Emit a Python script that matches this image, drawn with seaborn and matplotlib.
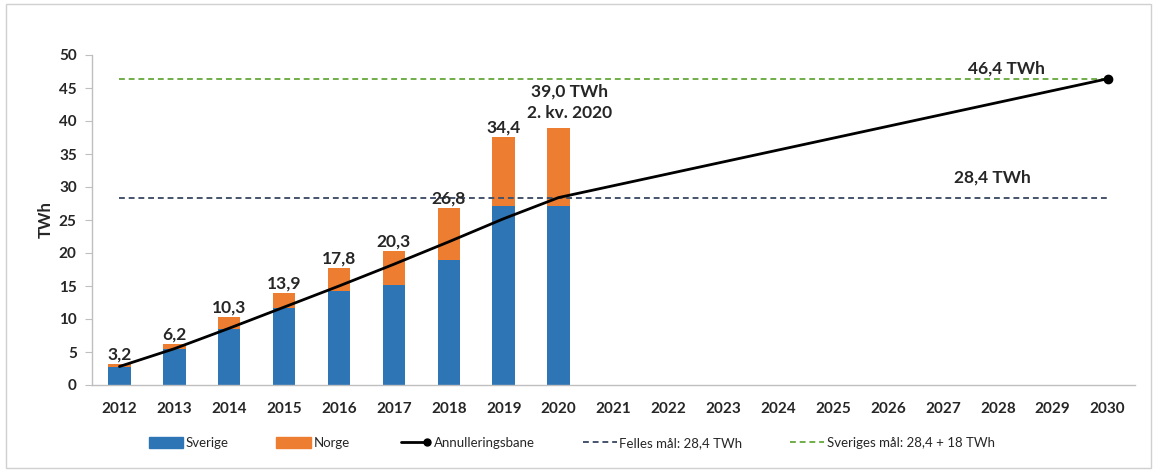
import matplotlib.pyplot as plt
import pandas as pd
import seaborn as sns
from matplotlib.legend_handler import HandlerLine2D
from matplotlib.lines import Line2D
from matplotlib.patches import Patch, Rectangle

# Kategorier (år)
years = [str(y) for y in range(2012, 2031)]

# Stablede søyler (TWh), 2012-2020
bar_years = ["2012", "2013", "2014", "2015", "2016", "2017", "2018", "2019", "2020"]
sverige = [2.8, 5.4, 8.5, 11.6, 14.3, 15.1, 19.0, 27.1, 27.1]
norge = [0.4, 0.8, 1.8, 2.3, 3.5, 5.2, 7.8, 10.5, 11.9]
bar_labels = ["3,2", "6,2", "10,3", "13,9", "17,8", "20,3", "26,8", "34,4", ""]

# Annulleringsbane
bane_years = ["2012", "2013", "2014", "2015", "2016", "2017", "2018", "2019", "2020", "2030"]
bane = [2.8, 5.5, 8.6, 11.8, 15.0, 18.3, 21.7, 25.2, 28.4, 46.4]

felles_maal = 28.4
sveriges_maal = 46.4

BLUE = "#2E75B6"
ORANGE = "#ED7D31"
NAVY = "#44546A"
GREEN = "#70AD47"


class EndMarkerHandler(HandlerLine2D):
    """Linje i tegnforklaringen med markør bare i høyre ende."""

    def create_artists(self, legend, orig_handle, xdescent, ydescent,
                       width, height, fontsize, trans):
        artists = super().create_artists(legend, orig_handle, xdescent, ydescent,
                                         width, height, fontsize, trans)
        for a in artists:
            n = len(a.get_xdata())
            a.set_markevery([n - 1])
        return artists


sns.set_style("white")
plt.rcParams["font.family"] = ["Lato", "DejaVu Sans"]

df = pd.DataFrame({"year": bar_years, "sverige": sverige, "norge": norge})
df["total"] = df["sverige"] + df["norge"]

W, H = 1157, 472
fig = plt.figure(figsize=(W / 100, H / 100), dpi=100)
ax = fig.add_axes([92 / W, (H - 385) / H, (1135 - 92) / W, (385 - 55) / H])

# Totalen (orange) først, deretter Sverige (blå) oppå
sns.barplot(data=df, x="year", y="total", order=years, color=ORANGE,
            width=0.41, saturation=1, linewidth=0, ax=ax)
sns.barplot(data=df, x="year", y="sverige", order=years, color=BLUE,
            width=0.41, saturation=1, linewidth=0, ax=ax)

pos = {y: i for i, y in enumerate(years)}

# Mållinjer
ax.hlines(sveriges_maal, pos["2012"], pos["2030"], colors=GREEN,
          linestyles=(0, (3, 2)), lw=1.4, zorder=3)
ax.hlines(felles_maal, pos["2012"], pos["2030"], colors=NAVY,
          linestyles=(0, (3, 2)), lw=1.4, zorder=3)

# Annulleringsbane
bx = [pos[y] for y in bane_years]
ax.plot(bx, bane, color="black", lw=2, zorder=4)
ax.plot(bx[-1], bane[-1], "o", color="black", ms=6, zorder=5)

# Verdietiketter
for yr, tot, lab in zip(bar_years, df["total"], bar_labels):
    if lab:
        ax.annotate(lab, (pos[yr], tot), xytext=(0, 1), textcoords="offset points",
                    ha="center", va="bottom", fontsize=12.5, fontweight="bold")
ax.text(pos["2020"] + 0.2, 44.4, "39,0 TWh", ha="center", va="center",
        fontsize=12.5, fontweight="bold")
ax.text(pos["2020"] + 0.2, 41.2, "2. kv. 2020", ha="center", va="center",
        fontsize=12.5, fontweight="bold")
ax.text(pos["2029"] - 0.85, 48.0, "46,4 TWh", ha="center", va="center",
        fontsize=12.5, fontweight="bold")
ax.text(pos["2029"] - 1.1, 31.4, "28,4 TWh", ha="center", va="center",
        fontsize=12.5, fontweight="bold")

# Akser
ax.set_xlim(-0.5, len(years) - 0.5)
ax.set_ylim(0, 50)
ax.set_yticks(range(0, 51, 5))
ax.set_xlabel("")
ax.set_ylabel("TWh", fontsize=12, fontweight="bold", labelpad=4)
for s in ["top", "right"]:
    ax.spines[s].set_visible(False)
for s in ["left", "bottom"]:
    ax.spines[s].set_color("#BFBFBF")
    ax.spines[s].set_linewidth(1)
ax.tick_params(axis="y", left=True, length=5, color="#BFBFBF", labelsize=11, pad=6)
ax.tick_params(axis="x", bottom=False, labelsize=11, pad=9)
for t in ax.get_xticklabels() + ax.get_yticklabels():
    t.set_fontweight("bold")

# Tegnforklaring
line_handle = Line2D([], [], color="black", lw=2, marker="o", ms=5)
handles = [
    Patch(color=BLUE),
    Patch(color=ORANGE),
    line_handle,
    Line2D([], [], color=NAVY, lw=1.4, ls=(0, (3, 2))),
    Line2D([], [], color=GREEN, lw=1.4, ls=(0, (3, 2))),
]
labels = ["Sverige", "Norge", "Annulleringsbane", "Felles mål: 28,4 TWh",
          "Sveriges mål: 28,4 + 18 TWh"]
fig.legend(handles, labels, loc="center", bbox_to_anchor=(572 / W, (H - 443) / H),
           ncol=5, frameon=False, fontsize=9.5, handlelength=2.6, handleheight=0.9,
           handletextpad=0.2, columnspacing=3.6,
           handler_map={line_handle: EndMarkerHandler(numpoints=2)})

# Ramme rundt figuren
fig.patches.append(Rectangle((6 / W, 4 / H), (W - 12) / W, (H - 8) / H,
                             transform=fig.transFigure, fill=False,
                             edgecolor="#D0D0D0", lw=1))

fig.savefig("out.png", dpi=100)
